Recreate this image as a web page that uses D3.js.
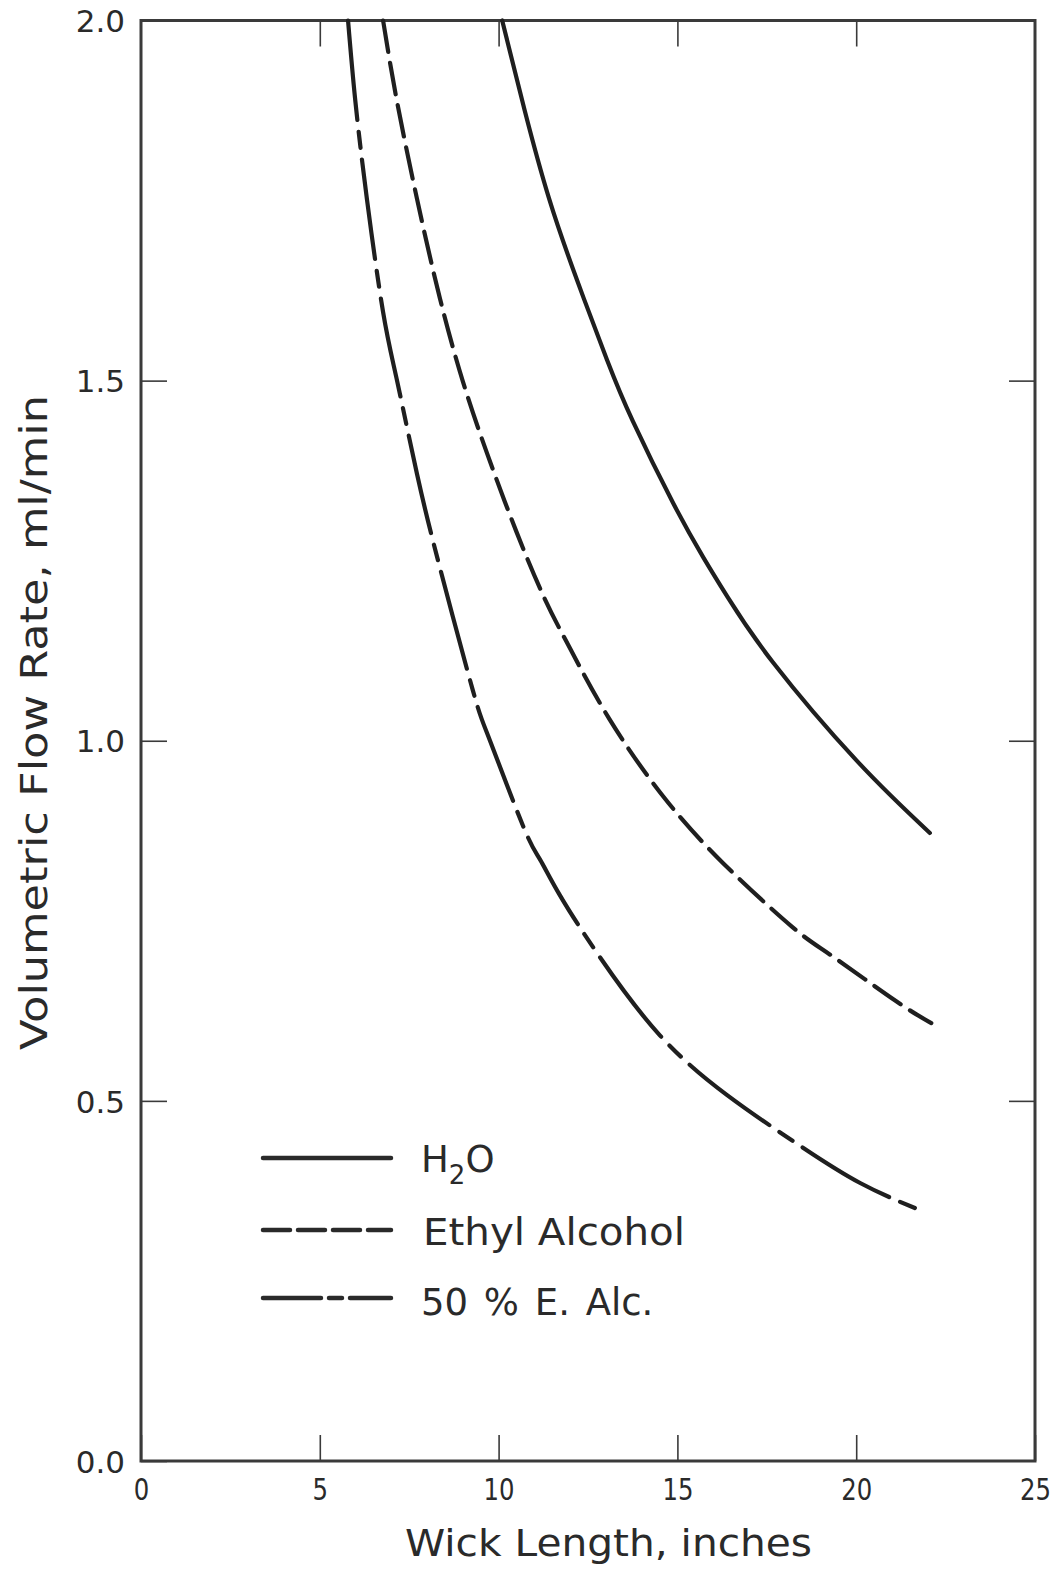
<!DOCTYPE html>
<html>
<head>
<meta charset="utf-8">
<script src="https://cdn.jsdelivr.net/npm/d3@7"></script>
<style>
  html, body { margin: 0; padding: 0; background: #fff; }
  svg text { font-family: "DejaVu Sans", "Liberation Sans", sans-serif; fill: #2a2a2a; }
</style>
</head>
<body>
<svg id="chart" width="1059" height="1570"></svg>
<script>
// Wick length (inches) vs. volumetric flow rate (ml/min) for three liquids
const waterLength   = [10.1, 10.73, 11.41, 12.19, 13.03, 13.76, 14.88, 15.72, 16.41, 17.67, 20.02, 22.06];
const waterFlow     = [2.0, 1.875, 1.753, 1.64, 1.529, 1.443, 1.33, 1.255, 1.199, 1.109, 0.972, 0.872];

const ethylLength   = [6.77, 7.15, 7.72, 8.36, 9.0, 9.67, 10.5, 11.3, 12.0, 13.1, 14.6, 16.3, 18.2, 19.3, 21.1, 22.1];
const ethylFlow     = [2.0, 1.89, 1.752, 1.614, 1.499, 1.4, 1.29, 1.196, 1.128, 1.03, 0.923, 0.829, 0.742, 0.702, 0.639, 0.608];

const mixLength     = [5.79, 5.99, 6.32, 6.77, 7.16, 7.72, 8.36, 9.28, 9.76, 10.69, 11.16, 11.72, 12.84, 14.51, 16.39, 18.3, 20.11, 21.95];
const mixFlow       = [2.0, 1.89, 1.751, 1.595, 1.5, 1.37, 1.24, 1.07, 1.0, 0.881, 0.835, 0.785, 0.699, 0.591, 0.508, 0.442, 0.386, 0.345];

const seriesNames   = ["H2O", "Ethyl Alcohol", "50 % E. Alc."];
const xTicks        = [0, 5, 10, 15, 20, 25];
const yTicks        = [0.0, 0.5, 1.0, 1.5, 2.0];
const xTitle        = "Wick Length, inches";
const yTitle        = "Volumetric Flow Rate, ml/min";

const svg = d3.select("#chart");
const plot = { left: 141, right: 1035, top: 20.5, bottom: 1461 };

const x = d3.scaleLinear().domain([0, 25]).range([plot.left, plot.right]);
const y = d3.scaleLinear().domain([0, 2]).range([plot.bottom, plot.top]);

const axisColor = "#3a3a3a";
const lineColor = "#1f1f1f";

// Frame with inward ticks on all four sides
svg.append("rect")
  .attr("x", plot.left).attr("y", plot.top)
  .attr("width", plot.right - plot.left).attr("height", plot.bottom - plot.top)
  .attr("fill", "none").attr("stroke", axisColor).attr("stroke-width", 3);

const tickLen = 26;
const bottomAxis = d3.axisBottom(x).tickValues(xTicks).tickSize(-tickLen).tickFormat(d3.format("d")).tickPadding(18);
const topAxis = d3.axisTop(x).tickValues(xTicks.slice(1, -1)).tickSize(-tickLen).tickFormat("");
const leftAxis = d3.axisLeft(y).tickValues(yTicks).tickSize(-tickLen).tickFormat(d3.format(".1f")).tickPadding(16);
const rightAxis = d3.axisRight(y).tickValues(yTicks.slice(1, -1)).tickSize(-tickLen).tickFormat("");

function styleAxis(g) {
  g.select(".domain").remove();
  g.selectAll(".tick line").attr("stroke", axisColor).attr("stroke-width", 1.6);
  g.selectAll(".tick text").attr("fill", "#2a2a2a").attr("font-family", "DejaVu Sans, sans-serif");
}

svg.append("g").attr("transform", `translate(0,${plot.bottom})`).call(bottomAxis).call(styleAxis)
  .selectAll(".tick text").attr("font-size", 30)
  .attr("textLength", d => String(d).length * 15.5).attr("lengthAdjust", "spacingAndGlyphs");

svg.append("g").attr("transform", `translate(0,${plot.top})`).call(topAxis).call(styleAxis);
svg.append("g").attr("transform", `translate(${plot.left},0)`).call(leftAxis).call(styleAxis)
  .selectAll(".tick text").attr("font-size", 31).attr("dy", "0.36em");
svg.append("g").attr("transform", `translate(${plot.right},0)`).call(rightAxis).call(styleAxis);

// Axis titles
svg.append("text")
  .attr("x", 405).attr("y", 1556)
  .attr("font-size", 38)
  .attr("textLength", 407).attr("lengthAdjust", "spacingAndGlyphs")
  .text(xTitle);

svg.append("text")
  .attr("transform", "translate(47,1050) rotate(-90)")
  .attr("font-size", 37)
  .attr("textLength", 655).attr("lengthAdjust", "spacingAndGlyphs")
  .text(yTitle);

// Curves: natural cubic spline through the read points
const line = d3.line()
  .x(d => x(d[0])).y(d => y(d[1]))
  .curve(d3.curveNatural);

const series = [
  { name: seriesNames[0], pts: d3.zip(waterLength, waterFlow), dash: null },
  { name: seriesNames[1], pts: d3.zip(ethylLength, ethylFlow), dash: "32 11" },
  { name: seriesNames[2], pts: d3.zip(mixLength, mixFlow), dash: "100 12 16 12" }
];

svg.append("g").selectAll("path").data(series).join("path")
  .attr("d", d => line(d.pts))
  .attr("fill", "none").attr("stroke", lineColor).attr("stroke-width", 4.2)
  .attr("stroke-linecap", "round")
  .attr("stroke-dasharray", d => d.dash);

// Legend
const legendDash = [null, "27 8", "58 8 13 8"];
const legendY = [1158, 1230, 1298];
const legend = svg.append("g");
series.forEach((s, i) => {
  legend.append("line")
    .attr("x1", 263).attr("x2", 391).attr("y1", legendY[i]).attr("y2", legendY[i])
    .attr("stroke", "#2a2a2a").attr("stroke-width", 4.5).attr("stroke-linecap", "round")
    .attr("stroke-dasharray", legendDash[i]);
});
const lt = legend.append("text").attr("x", 421).attr("y", legendY[0] + 14).attr("font-size", 37);
lt.append("tspan").text("H");
lt.append("tspan").attr("font-size", 26).attr("dy", 12).text("2");
lt.append("tspan").attr("dy", -12).text("O");
legend.append("text").attr("x", 423).attr("y", legendY[1] + 15).attr("font-size", 37)
  .attr("textLength", 262).attr("lengthAdjust", "spacingAndGlyphs").text(seriesNames[1]);
legend.append("text").attr("x", 421).attr("y", legendY[2] + 17).attr("font-size", 37)
  .attr("word-spacing", 4).text(seriesNames[2]);
</script>
</body>
</html>
